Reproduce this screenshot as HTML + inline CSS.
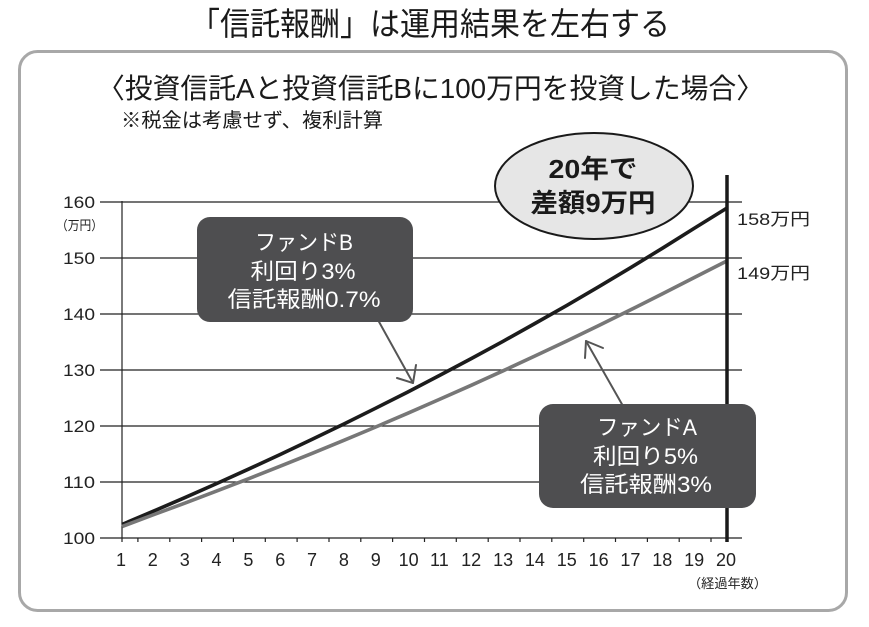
<!DOCTYPE html>
<html>
<head>
<meta charset="utf-8">
<style>
html,body{margin:0;padding:0;background:#fff;}
svg{display:block;}
text{font-family:"Liberation Sans","Noto Sans CJK JP",sans-serif;}
</style>
</head>
<body>
<svg width="869" height="627" viewBox="0 0 869 627" xmlns="http://www.w3.org/2000/svg">
  <rect x="0" y="0" width="869" height="627" fill="#fff"/>
  <!-- Title -->
  <text x="190" y="35" font-size="32" fill="#1a1a1a" textLength="480" lengthAdjust="spacingAndGlyphs">「信託報酬」は運用結果を左右する</text>
  <!-- Outer rounded box -->
  <rect x="19.5" y="51.5" width="827" height="559" rx="18" ry="18" fill="#fff" stroke="#a8a8a8" stroke-width="3"/>
  <!-- Subtitle -->
  <text x="97" y="98" font-size="28" fill="#1a1a1a" textLength="667" lengthAdjust="spacingAndGlyphs">〈投資信託Aと投資信託Bに100万円を投資した場合〉</text>
  <text x="121" y="127" font-size="20" fill="#1a1a1a" textLength="262" lengthAdjust="spacingAndGlyphs">※税金は考慮せず、複利計算</text>

  <!-- Gridlines -->
  <g stroke="#222" stroke-width="1.2">
    <line x1="100" y1="202" x2="742" y2="202"/>
    <line x1="100" y1="258" x2="742" y2="258"/>
    <line x1="100" y1="314" x2="742" y2="314"/>
    <line x1="100" y1="370" x2="742" y2="370"/>
    <line x1="100" y1="426" x2="742" y2="426"/>
    <line x1="100" y1="482" x2="742" y2="482"/>
    <line x1="100" y1="538" x2="742" y2="538"/>
    <!-- y axis -->
    <line x1="122" y1="201" x2="122" y2="542"/>
  </g>
  <!-- x ticks -->
  <g stroke="#222" stroke-width="1.2">
    <line x1="137.9" y1="538" x2="137.9" y2="542"/>
    <line x1="169.8" y1="538" x2="169.8" y2="542"/>
    <line x1="201.6" y1="538" x2="201.6" y2="542"/>
    <line x1="233.4" y1="538" x2="233.4" y2="542"/>
    <line x1="265.3" y1="538" x2="265.3" y2="542"/>
    <line x1="297.1" y1="538" x2="297.1" y2="542"/>
    <line x1="329.0" y1="538" x2="329.0" y2="542"/>
    <line x1="360.8" y1="538" x2="360.8" y2="542"/>
    <line x1="392.6" y1="538" x2="392.6" y2="542"/>
    <line x1="424.5" y1="538" x2="424.5" y2="542"/>
    <line x1="456.3" y1="538" x2="456.3" y2="542"/>
    <line x1="488.2" y1="538" x2="488.2" y2="542"/>
    <line x1="520.0" y1="538" x2="520.0" y2="542"/>
    <line x1="551.8" y1="538" x2="551.8" y2="542"/>
    <line x1="583.7" y1="538" x2="583.7" y2="542"/>
    <line x1="615.5" y1="538" x2="615.5" y2="542"/>
    <line x1="647.4" y1="538" x2="647.4" y2="542"/>
    <line x1="679.2" y1="538" x2="679.2" y2="542"/>
    <line x1="711.0" y1="538" x2="711.0" y2="542"/>
  </g>

  <!-- Y labels -->
  <g font-size="17" fill="#222" text-anchor="end">
    <text x="95" y="208" textLength="32" lengthAdjust="spacingAndGlyphs">160</text>
    <text x="95" y="264" textLength="32" lengthAdjust="spacingAndGlyphs">150</text>
    <text x="95" y="320" textLength="32" lengthAdjust="spacingAndGlyphs">140</text>
    <text x="95" y="376" textLength="32" lengthAdjust="spacingAndGlyphs">130</text>
    <text x="95" y="432" textLength="32" lengthAdjust="spacingAndGlyphs">120</text>
    <text x="95" y="488" textLength="32" lengthAdjust="spacingAndGlyphs">110</text>
    <text x="95" y="544" textLength="32" lengthAdjust="spacingAndGlyphs">100</text>
  </g>
  <text x="56" y="230" font-size="13" fill="#222" textLength="47" lengthAdjust="spacingAndGlyphs">（万円）</text>

  <!-- X labels -->
  <g font-size="18" fill="#222" text-anchor="middle">
    <text x="121" y="566">1</text>
    <text x="152.8" y="566">2</text>
    <text x="184.7" y="566">3</text>
    <text x="216.5" y="566">4</text>
    <text x="248.4" y="566">5</text>
    <text x="280.2" y="566">6</text>
    <text x="312.0" y="566">7</text>
    <text x="343.9" y="566">8</text>
    <text x="375.7" y="566">9</text>
    <text x="408.6" y="566">10</text>
    <text x="439.4" y="566">11</text>
    <text x="471.2" y="566">12</text>
    <text x="503.1" y="566">13</text>
    <text x="534.9" y="566">14</text>
    <text x="566.8" y="566">15</text>
    <text x="598.6" y="566">16</text>
    <text x="630.4" y="566">17</text>
    <text x="662.3" y="566">18</text>
    <text x="694.1" y="566">19</text>
    <text x="726" y="566">20</text>
  </g>
  <text x="688" y="588" font-size="13" fill="#222" textLength="79" lengthAdjust="spacingAndGlyphs">（経過年数）</text>

  <!-- Series -->
  <polyline fill="none" stroke="#1c1c1c" stroke-width="3.6" stroke-linejoin="round"
    points="122,524.5 152.8,511.45 184.7,497.7 216.5,483.6 248.4,469.2 280.2,454.5 312.0,439.4 343.9,424.0 375.7,408.2 407.6,392.1 439.4,375.5 471.2,358.6 503.1,341.3 534.9,323.5 566.8,305.4 598.6,286.8 630.4,267.8 662.3,248.3 694.1,228.4 727,208.0"/>
  <polyline fill="none" stroke="#777" stroke-width="3.6" stroke-linejoin="round"
    points="122,526.6 152.8,515.0 184.7,503.2 216.5,491.1 248.4,478.8 280.2,466.2 312.0,453.4 343.9,440.3 375.7,427.0 407.6,413.3 439.4,399.4 471.2,385.3 503.1,370.8 534.9,356.0 566.8,341.0 598.6,325.6 630.4,309.9 662.3,293.9 694.1,277.6 727,260.9"/>

  <!-- Bold vertical line at year 20 -->
  <line x1="727" y1="175" x2="727" y2="542" stroke="#1a1a1a" stroke-width="3.5"/>

  <!-- End labels -->
  <text x="737" y="225" font-size="17" fill="#222" textLength="73" lengthAdjust="spacingAndGlyphs">158万円</text>
  <text x="737" y="279" font-size="17" fill="#222" textLength="73" lengthAdjust="spacingAndGlyphs">149万円</text>

  <!-- Ellipse -->
  <ellipse cx="594" cy="186" rx="99" ry="53" fill="#e6e6e6" stroke="#1a1a1a" stroke-width="2"/>
  <text x="593" y="178" font-size="26" font-weight="bold" fill="#1a1a1a" text-anchor="middle" textLength="89" lengthAdjust="spacingAndGlyphs">20年で</text>
  <text x="593" y="212" font-size="26" font-weight="bold" fill="#1a1a1a" text-anchor="middle" textLength="125" lengthAdjust="spacingAndGlyphs">差額9万円</text>

  <!-- Arrows -->
  <g stroke="#555" stroke-width="2" fill="none" stroke-linecap="round" stroke-linejoin="round">
    <line x1="378" y1="320" x2="413" y2="383"/>
    <polyline points="397,378 413,383 416,365"/>
    <line x1="623" y1="406" x2="586" y2="341"/>
    <polyline points="585,358 586,341 603,348"/>
  </g>

  <!-- Fund B box -->
  <rect x="197" y="217" width="216" height="105" rx="13" ry="13" fill="#4e4e50"/>
  <g fill="#fff" font-size="22" text-anchor="middle">
    <text x="304" y="250" textLength="98" lengthAdjust="spacingAndGlyphs">ファンドB</text>
    <text x="303" y="279" textLength="105" lengthAdjust="spacingAndGlyphs">利回り3%</text>
    <text x="304" y="307" textLength="153" lengthAdjust="spacingAndGlyphs">信託報酬0.7%</text>
  </g>

  <!-- Fund A box -->
  <rect x="539" y="404" width="217" height="104" rx="14" ry="14" fill="#4e4e50"/>
  <g fill="#fff" font-size="22" text-anchor="middle">
    <text x="647" y="435" textLength="100" lengthAdjust="spacingAndGlyphs">ファンドA</text>
    <text x="645.5" y="464" textLength="105" lengthAdjust="spacingAndGlyphs">利回り5%</text>
    <text x="646" y="492" textLength="132" lengthAdjust="spacingAndGlyphs">信託報酬3%</text>
  </g>
</svg>
</body>
</html>
